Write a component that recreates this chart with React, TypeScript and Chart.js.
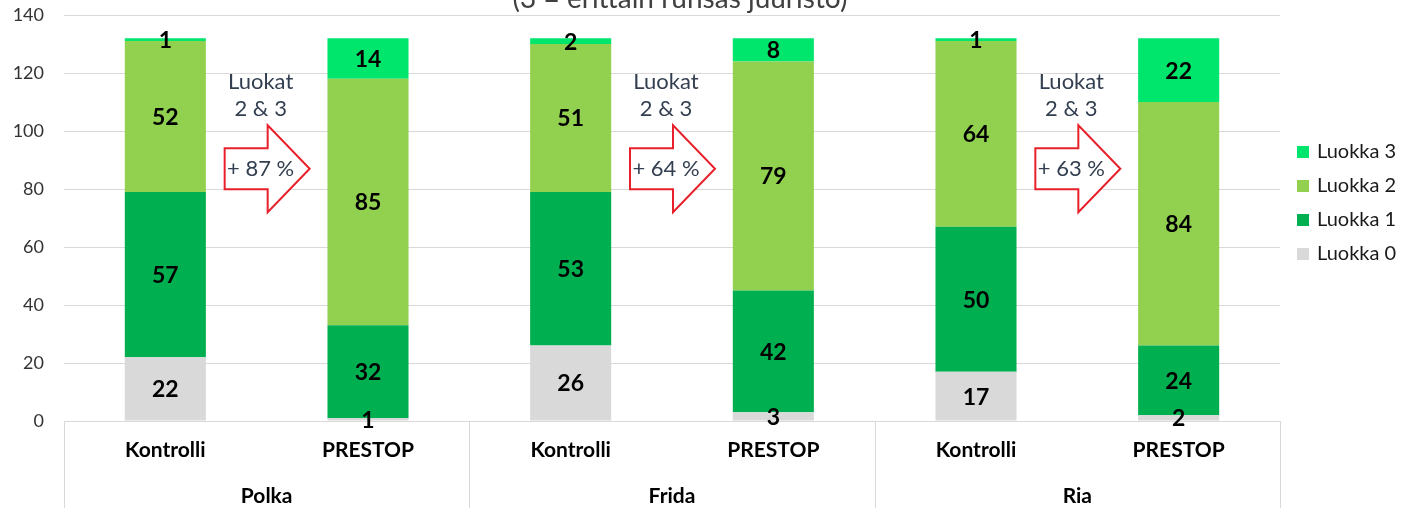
import React, { useEffect, useRef } from "react";
import { Chart, registerables } from "chart.js";
Chart.register(...registerables);

const categories = ["Kontrolli", "PRESTOP", "Kontrolli", "PRESTOP", "Kontrolli", "PRESTOP"];
const groups = ["Polka", "Frida", "Ria"];
const luokka0 = [22, 1, 26, 3, 17, 2];
const luokka1 = [57, 32, 53, 42, 50, 24];
const luokka2 = [52, 85, 51, 79, 64, 84];
const luokka3 = [1, 14, 2, 8, 1, 22];
const seriesNames = ["Luokka 0", "Luokka 1", "Luokka 2", "Luokka 3"];
const seriesColors = ["#D9D9D9", "#00B050", "#92D050", "#00E56C"];
const changeLabels = ["+ 87 %", "+ 64 %", "+ 63 %"];
const arrowCaption = ["Luokat", "2 & 3"];
const titleText = "(3 = erittäin runsas juuristo)";
const yMin = 0;
const yMax = 140;
const yStep = 20;
// annotation anchor values (y-axis units)
const arrowValue = 87;
const captionValues = [117, 107.6];

const FONT = "Lato, 'Open Sans', sans-serif";

const overlayPlugin = {
  id: "overlay",
  afterDatasetsDraw(chart: any) {
    const ctx = chart.ctx;
    ctx.save();
    ctx.font = `bold 23px ${FONT}`;
    ctx.fillStyle = "#000000";
    ctx.textAlign = "center";
    ctx.textBaseline = "middle";
    chart.data.datasets.forEach((ds: any, di: number) => {
      const meta = chart.getDatasetMeta(di);
      meta.data.forEach((bar: any, i: number) => {
        const v = ds.data[i];
        if (!v) return;
        const cy = (bar.y + bar.base) / 2;
        ctx.fillText(String(v), bar.x, cy + 1);
      });
    });
    ctx.restore();
  },
  afterDraw(chart: any) {
    const ctx = chart.ctx;
    const area = chart.chartArea;
    const xs = chart.scales.x;
    const ys = chart.scales.y;
    ctx.save();

    // title (partially cut at top)
    ctx.font = `28px ${FONT}`;
    ctx.fillStyle = "#404040";
    ctx.textAlign = "center";
    ctx.textBaseline = "alphabetic";
    ctx.fillText(titleText, (area.left + area.right) / 2 + 8, 8);

    // x category labels
    ctx.font = `bold 21px ${FONT}`;
    ctx.fillStyle = "#000000";
    ctx.textBaseline = "middle";
    categories.forEach((c, i) => {
      ctx.fillText(c, xs.getPixelForValue(i), area.bottom + 29);
    });
    // group labels and separators
    const gw = (area.right - area.left) / groups.length;
    groups.forEach((g, gi) => {
      const mid = (xs.getPixelForValue(gi * 2) + xs.getPixelForValue(gi * 2 + 1)) / 2;
      ctx.fillStyle = "#000000";
      ctx.fillText(g, mid, area.bottom + 75);
    });
    ctx.strokeStyle = "#D9D9D9";
    ctx.lineWidth = 1;
    for (let k = 0; k <= groups.length; k++) {
      const x = Math.round(area.left + k * gw) + 0.5;
      ctx.beginPath();
      ctx.moveTo(x, area.bottom);
      ctx.lineTo(x, chart.height);
      ctx.stroke();
    }

    // arrows and annotation texts
    groups.forEach((g, gi) => {
      const mid = (xs.getPixelForValue(gi * 2) + xs.getPixelForValue(gi * 2 + 1)) / 2;
      const cy = ys.getPixelForValue(arrowValue);
      const sl = mid - 42, hb = mid + 1, tip = mid + 43;
      const sh = 20.5, hh = 43.5;
      ctx.beginPath();
      ctx.moveTo(sl, cy - sh);
      ctx.lineTo(hb, cy - sh);
      ctx.lineTo(hb, cy - hh);
      ctx.lineTo(tip, cy);
      ctx.lineTo(hb, cy + hh);
      ctx.lineTo(hb, cy + sh);
      ctx.lineTo(sl, cy + sh);
      ctx.closePath();
      ctx.fillStyle = "#FFFFFF";
      ctx.fill();
      ctx.strokeStyle = "#E8202A";
      ctx.lineWidth = 2;
      ctx.lineJoin = "miter";
      ctx.stroke();

      ctx.font = `22px ${FONT}`;
      ctx.fillStyle = "#333F50";
      ctx.textAlign = "center";
      ctx.textBaseline = "middle";
      ctx.fillText(changeLabels[gi], mid - 6, cy);
      arrowCaption.forEach((t, ti) => {
        ctx.fillText(t, mid - 6, ys.getPixelForValue(captionValues[ti]));
      });
    });

    // legend (reverse order)
    ctx.font = `20px ${FONT}`;
    ctx.textAlign = "left";
    ctx.textBaseline = "middle";
    const lx = area.right + 17;
    for (let k = 0; k < seriesNames.length; k++) {
      const si = seriesNames.length - 1 - k;
      const ly = area.top + 137 + k * 34;
      ctx.fillStyle = seriesColors[si];
      ctx.fillRect(lx, ly - 6, 12, 12);
      ctx.fillStyle = "#1A1A1A";
      ctx.fillText(seriesNames[si], lx + 20, ly);
    }
    ctx.restore();
  },
};

export default function App() {
  const ref = useRef<HTMLCanvasElement>(null);
  useEffect(() => {
    document.body.style.margin = "0";
    const series = [luokka0, luokka1, luokka2, luokka3];
    const chart = new Chart(ref.current as HTMLCanvasElement, {
      type: "bar",
      data: {
        labels: categories,
        datasets: series.map((d, i) => ({
          label: seriesNames[i],
          data: d,
          backgroundColor: seriesColors[i],
          borderWidth: 0,
          barPercentage: 0.4,
          categoryPercentage: 1,
        })),
      },
      options: {
        animation: false,
        responsive: true,
        maintainAspectRatio: false,
        layout: { padding: { top: 15, bottom: 87, right: 135, left: 0 } },
        plugins: { legend: { display: false }, tooltip: { enabled: false }, title: { display: false } },
        scales: {
          x: { stacked: true, display: false },
          y: {
            stacked: true,
            min: yMin,
            max: yMax,
            ticks: { stepSize: yStep, padding: 20, color: "#333333", font: { family: FONT, size: 18 } },
            grid: { color: "#D9D9D9", drawTicks: false },
            border: { display: false },
            afterFit: (s: any) => { s.width = 64; s.paddingTop = 0; s.paddingBottom = 0; },
          },
        },
      },
      plugins: [overlayPlugin],
    });
    return () => chart.destroy();
  }, []);
  return (
    <div style={{ width: 1415, height: 508, position: "relative" }}>
      <canvas ref={ref} />
    </div>
  );
}
